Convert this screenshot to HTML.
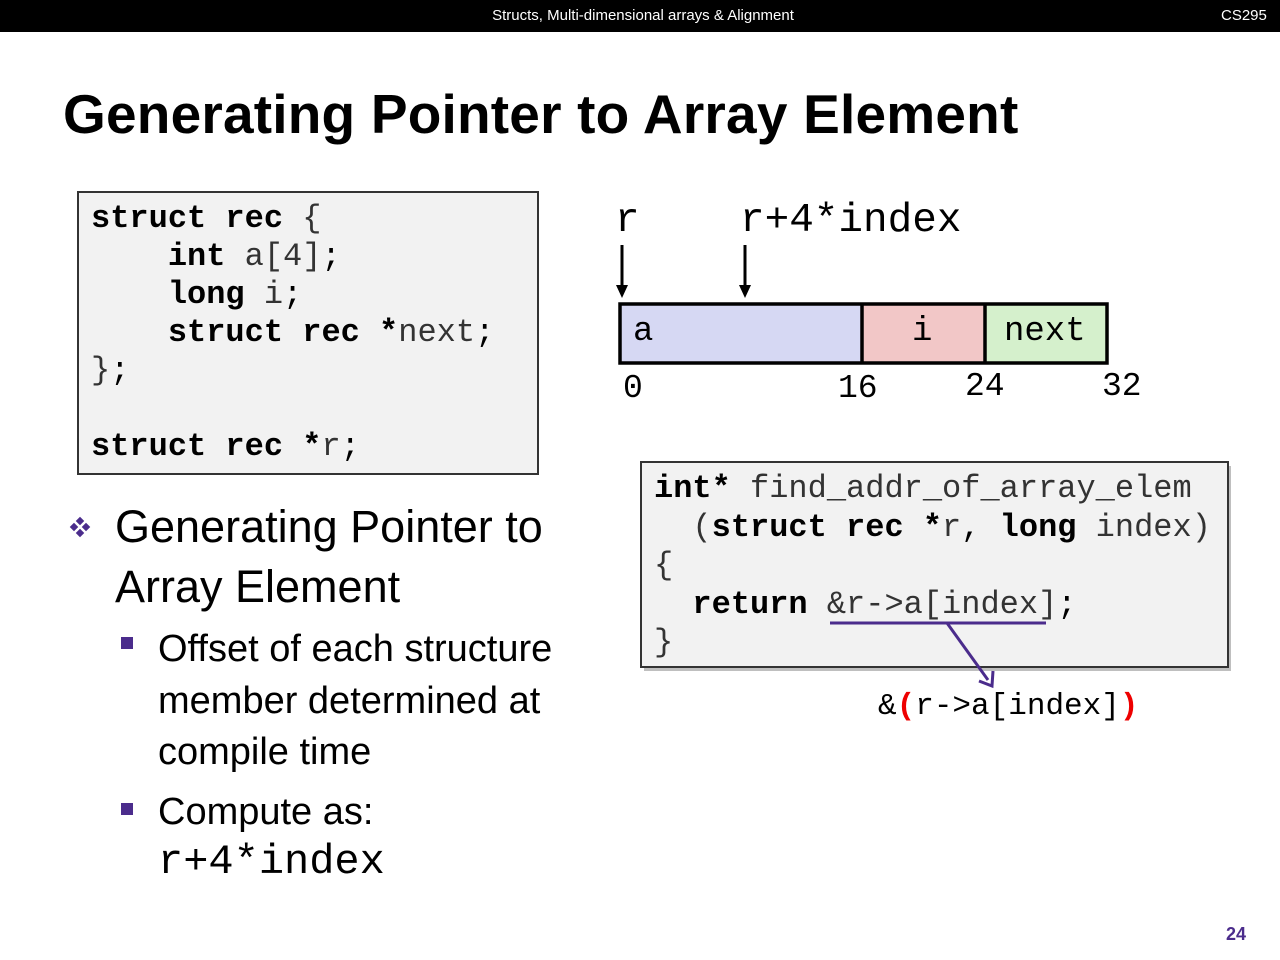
<!DOCTYPE html>
<html><head><meta charset="utf-8"><style>
*{margin:0;padding:0;box-sizing:border-box}
body{width:1280px;height:960px;background:#fff;position:relative;overflow:hidden;font-family:"Liberation Sans",sans-serif}
.a{position:absolute;white-space:pre}
.m{font-family:"Liberation Mono",monospace}
b{font-weight:bold}
.box{position:absolute;background:#f2f2f2;border:2px solid #333}
.t{color:#333}
</style></head><body>
<div class="a" style="left:0;top:0;width:1280px;height:32px;background:#000"></div>
<div class="a" style="left:0;width:1286px;top:7px;text-align:center;color:#fff;font-size:15px">Structs, Multi-dimensional arrays &amp; Alignment</div>
<div class="a" style="left:1221px;top:7px;color:#fff;font-size:15px">CS295</div>
<div class="a" style="left:63px;top:82px;font-size:55px;font-weight:bold;letter-spacing:0.2px">Generating Pointer to Array Element</div>

<div class="box" style="left:77px;top:191px;width:462px;height:284px"></div>
<div class="a m" style="left:91px;top:200px;font-size:32px;line-height:38px"><b>struct rec</b> <span class="t">{</span>
    <b>int</b> <span class="t">a[4]</span>;
    <b>long</b> <span class="t">i</span>;
    <b>struct rec *</b><span class="t">next</span>;
<span class="t">}</span>;

<b>struct rec *</b><span class="t">r</span>;</div>

<svg class="a" style="left:0;top:0" width="1280" height="960">
<rect x="620" y="304" width="242" height="59" fill="#d6d8f3"/>
<rect x="862" y="304" width="123" height="59" fill="#f2c7c7"/>
<rect x="985" y="304" width="122" height="59" fill="#d5f0cc"/>
<rect x="620" y="304" width="487" height="59" fill="none" stroke="#000" stroke-width="3.5"/>
<line x1="862" y1="304" x2="862" y2="363" stroke="#000" stroke-width="3.5"/>
<line x1="985" y1="304" x2="985" y2="363" stroke="#000" stroke-width="3.5"/>
<line x1="622" y1="245" x2="622" y2="287" stroke="#000" stroke-width="3"/>
<polygon points="616,285 628,285 622,298" fill="#000"/>
<line x1="745" y1="245" x2="745" y2="287" stroke="#000" stroke-width="3"/>
<polygon points="739,285 751,285 745,298" fill="#000"/>
<rect x="641" y="462" width="587" height="205" fill="#000" opacity="0.25" transform="translate(3,4)"/>
</svg>
<div class="a m" style="left:615px;top:198px;font-size:41px">r</div>
<div class="a m" style="left:740px;top:198px;font-size:41px">r+4*index</div>
<div class="a m" style="left:633px;top:313px;font-size:34px">a</div>
<div class="a m" style="left:912px;top:313px;font-size:34px">i</div>
<div class="a m" style="left:1004px;top:313px;font-size:34px">next</div>
<div class="a m" style="left:623px;top:370px;font-size:33px">0</div>
<div class="a m" style="left:838px;top:370px;font-size:33px">16</div>
<div class="a m" style="left:965px;top:368px;font-size:33px">24</div>
<div class="a m" style="left:1102px;top:368px;font-size:33px">32</div>

<div class="box" style="left:640px;top:461px;width:589px;height:207px"></div>
<div class="a m" style="left:654px;top:470px;font-size:32px;line-height:38.5px"><b>int*</b> <span class="t">find_addr_of_array_elem</span>
  <span class="t">(</span><b>struct rec *</b><span class="t">r</span>, <b>long</b> <span class="t">index)</span>
<span class="t">{</span>
  <b>return</b> <span class="t">&amp;r-&gt;a[index]</span>;
<span class="t">}</span></div>
<svg class="a" style="left:0;top:0" width="1280" height="960">
<line x1="830" y1="623" x2="1046" y2="623" stroke="#4b2c8c" stroke-width="3"/>
<line x1="947" y1="623" x2="988" y2="680" stroke="#4b2c8c" stroke-width="3"/>
<polyline points="979,681 992,686 993,671" fill="none" stroke="#4b2c8c" stroke-width="3"/>
<g fill="#4b2c8c">
<rect x="77" y="518" width="6" height="6" transform="rotate(45 80 521)"/>
<rect x="77" y="530" width="6" height="6" transform="rotate(45 80 533)"/>
<rect x="71" y="524" width="6" height="6" transform="rotate(45 74 527)"/>
<rect x="83" y="524" width="6" height="6" transform="rotate(45 86 527)"/>
</g>
<rect x="121" y="637" width="12" height="12" fill="#4b2c8c"/>
<rect x="121" y="803" width="12" height="12" fill="#4b2c8c"/>
</svg>
<div class="a m" style="left:878px;top:689px;font-size:31px">&amp;<b style="color:#e00">(</b>r-&gt;a[index]<b style="color:#e00">)</b></div>

<div class="a" style="left:115px;top:497px;font-size:45px;line-height:60px">Generating Pointer to
Array Element</div>
<div class="a" style="left:158px;top:624px;font-size:38px;line-height:51.5px">Offset of each structure
member determined at
compile time</div>
<div class="a" style="left:158px;top:791px;font-size:38px">Compute as:</div>
<div class="a m" style="left:158px;top:838px;font-size:42px">r+4*index</div>
<div class="a" style="left:1226px;top:924px;font-size:18px;font-weight:bold;color:#4b2c8c">24</div>
</body></html>
